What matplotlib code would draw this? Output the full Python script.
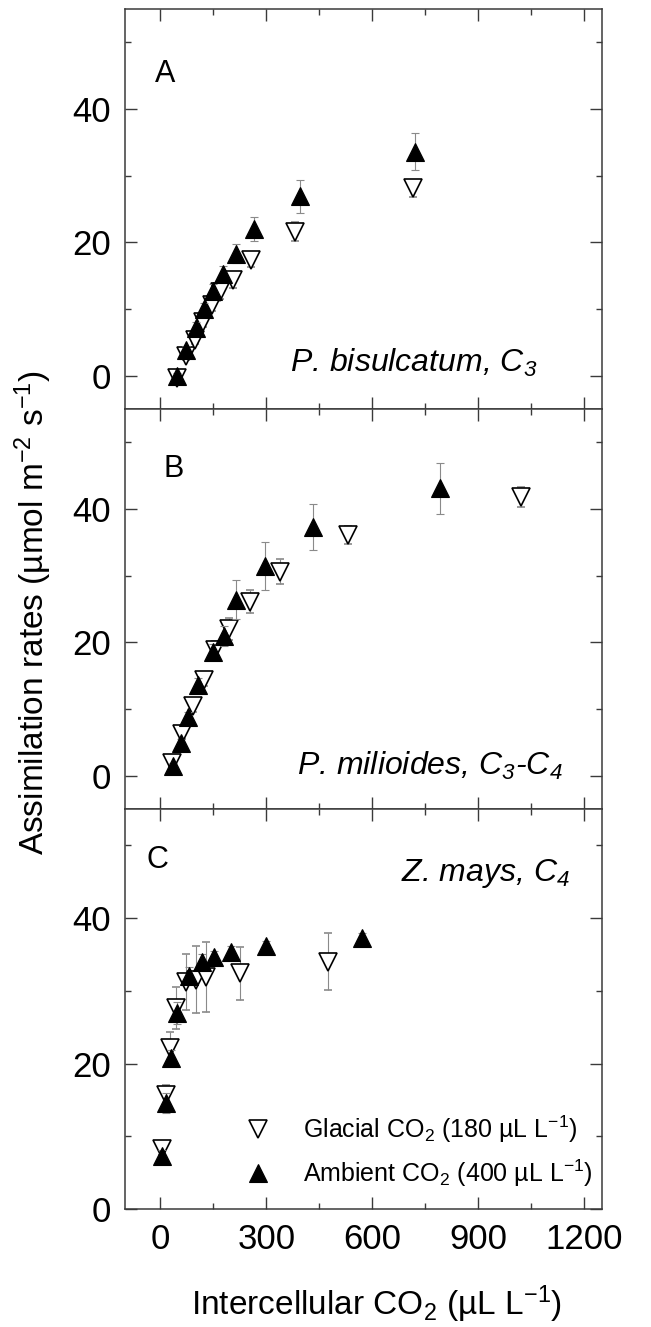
import numpy as np
import matplotlib
matplotlib.use('Agg')
import matplotlib.pyplot as plt
from matplotlib.ticker import MultipleLocator

# -------------------------------
# 1) 데이터
# -------------------------------
# A) P. bisulcatum, C3
A_x_amb = [47, 74, 101, 124, 150, 177, 213, 266, 396, 720]
A_y_amb = [0.0, 3.8, 7.2, 10.0, 12.7, 15.3, 18.3, 22.0, 26.9, 33.6]
A_e_amb = [0.4, 0.6, 0.8, 0.9, 1.0, 1.2, 1.4, 1.8, 2.5, 2.8]
A_x_gla = [47, 74, 97, 122, 146, 170, 205, 257, 380, 714]
A_y_gla = [-0.3, 2.9, 5.4, 8.1, 10.6, 12.5, 14.3, 17.3, 21.6, 28.1]
A_e_gla = [0.4, 0.5, 0.6, 0.8, 0.9, 1.0, 1.1, 1.0, 1.4, 1.3]

# B) P. milioides, C3-C4
B_x_amb = [36, 59, 78, 108, 148, 179, 215, 297, 432, 792]
B_y_amb = [1.4, 4.9, 8.8, 13.6, 18.6, 21.0, 26.4, 31.5, 37.3, 43.1]
B_e_amb = [0.5, 0.6, 0.8, 1.0, 1.2, 1.5, 2.9, 3.6, 3.4, 3.8]
B_x_gla = [33, 61, 92, 123, 156, 193, 255, 339, 531, 1021]
B_y_gla = [1.9, 6.3, 10.5, 14.4, 18.9, 22.0, 26.1, 30.6, 36.1, 41.8]
B_e_gla = [0.5, 0.8, 0.9, 1.0, 1.3, 1.7, 1.7, 1.9, 1.4, 1.5]

# C) Z. mays, C4
C_x_amb = [5, 16, 30, 47, 82, 118, 151, 200, 299, 572]
C_y_amb = [7.3, 14.6, 20.8, 26.9, 32.1, 34.0, 34.7, 35.4, 36.2, 37.2]
C_e_amb = [0.8, 1.4, 1.0, 1.5, 1.2, 1.0, 0.8, 0.7, 0.7, 0.7]
C_x_gla = [5, 16, 28, 45, 73, 100, 128, 226, 474]
C_y_gla = [8.2, 15.7, 22.2, 27.6, 31.2, 31.5, 31.9, 32.4, 34.0]
C_e_gla = [0.8, 1.3, 2.1, 2.9, 3.9, 4.6, 4.8, 3.6, 3.9]

panel_letters = ['A', 'B', 'C']
species = ['P. bisulcatum, $C_3$', 'P. milioides, $C_3$-$C_4$', 'Z. mays, $C_4$']
ylims = [(-5, 55), (-5, 55), (0, 55)]
x_ticks = [0, 300, 600, 900, 1200]

# -------------------------------
# 2) 글꼴/스타일
# -------------------------------
plt.rcParams['font.family'] = ['Liberation Sans', 'DejaVu Sans']
plt.rcParams['mathtext.fontset'] = 'custom'
plt.rcParams['mathtext.rm'] = 'Liberation Sans'
plt.rcParams['mathtext.it'] = 'Liberation Sans:italic'
plt.rcParams['mathtext.default'] = 'regular'

spine_c = '#3a3a3a'
err_c = '#8a8a8a'

fig = plt.figure(figsize=(6.51, 13.27), dpi=100)
left, right = 125 / 651, 602 / 651
top, bottom = 1 - 9 / 1327, 1 - 1209 / 1327
h = (top - bottom) / 3
axes = [fig.add_axes([left, top - (i + 1) * h, right - left, h]) for i in range(3)]

data = [
    (A_x_gla, A_y_gla, A_e_gla, A_x_amb, A_y_amb, A_e_amb),
    (B_x_gla, B_y_gla, B_e_gla, B_x_amb, B_y_amb, B_e_amb),
    (C_x_gla, C_y_gla, C_e_gla, C_x_amb, C_y_amb, C_e_amb),
]

# 글자 위치 (axes 비율)
letter_pos = [(0.063, 0.8175), (0.080, 0.83), (0.046, 0.8525)]
species_pos = [(0.864, 0.0925), (0.918, 0.085), (0.933, 0.82)]

handles = None
for i, ax in enumerate(axes):
    xg, yg, eg, xa, ya, ea = data[i]
    gla = ax.errorbar(xg, yg, yerr=eg, fmt='v', ms=12.5, mfc='white', mec='black',
                      mew=1.2, ecolor=err_c, elinewidth=0.8, capsize=3, capthick=0.8,
                      zorder=3)
    amb = ax.errorbar(xa, ya, yerr=ea, fmt='^', ms=13, mfc='black', mec='black',
                      mew=0.8, ecolor=err_c, elinewidth=0.8, capsize=3, capthick=0.8,
                      zorder=4)
    if handles is None:
        handles = [gla[0], amb[0]]

    ax.set_xlim(-100, 1250)
    ax.set_ylim(*ylims[i])
    ax.set_xticks(x_ticks)
    ax.xaxis.set_minor_locator(MultipleLocator(150))
    ax.yaxis.set_major_locator(MultipleLocator(20))
    ax.yaxis.set_minor_locator(MultipleLocator(10))
    ax.tick_params(which='both', direction='in', top=True, right=True,
                   color=spine_c, width=1.0, labelsize=25, pad=10)
    ax.tick_params(which='major', length=8.5)
    ax.tick_params(which='minor', length=4.5)
    for s in ax.spines.values():
        s.set_color(spine_c)
        s.set_linewidth(1.1)
    if i < 2:
        ax.tick_params(labelbottom=False)

    ax.text(*letter_pos[i], panel_letters[i], transform=ax.transAxes,
            fontsize=22, ha='left', va='baseline')
    ax.text(*species_pos[i], species[i], transform=ax.transAxes,
            fontsize=23, style='italic', ha='right', va='baseline')

# -------------------------------
# 3) 범례 + 축 이름
# -------------------------------
axes[2].legend(handles,
               ['Glacial CO$_2$ (180 µL L$^{-1}$)', 'Ambient CO$_2$ (400 µL L$^{-1}$)'],
               loc='lower left', bbox_to_anchor=(0.226, 0.05), frameon=False,
               fontsize=18, numpoints=1, handlelength=2.0, handletextpad=0.8,
               labelspacing=0.5, borderpad=0, borderaxespad=0)

fig.text(377 / 651, 12 / 1327, 'Intercellular CO$_2$ (µL L$^{-1}$)',
         fontsize=24, ha='center', va='baseline')
fig.text(33 / 651, 1 - 613 / 1327, 'Assimilation rates (µmol m$^{-2}$ s$^{-1}$)',
         fontsize=24, rotation=90, ha='center', va='center')

fig.savefig('out.png', dpi=100)
